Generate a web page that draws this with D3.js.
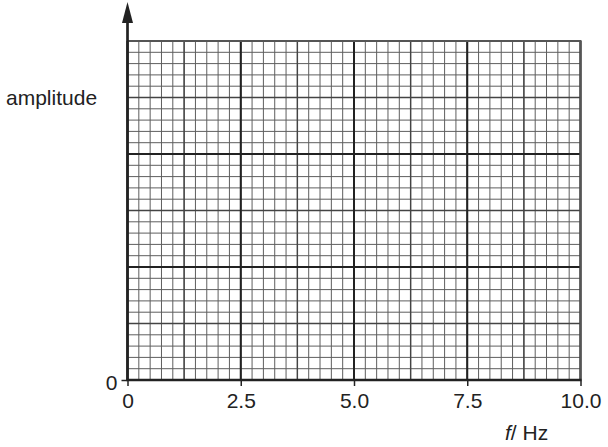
<!DOCTYPE html>
<html>
<head>
<meta charset="utf-8">
<script src="https://cdn.jsdelivr.net/npm/d3@7"></script>
<style>
  body { margin: 0; background: #fff; }
  svg { display: block; }
  text { font-family: "Liberation Sans", Arial, sans-serif; fill: #222; }
</style>
</head>
<body>
<div id="chart"></div>
<script>
// axis values
var xDomain = [0, 10];
var xTickValues = [0, 2.5, 5.0, 7.5, 10.0];
var xTickLabels = ["0", "2.5", "5.0", "7.5", "10.0"];
var yDomain = [0, 30];           // grid is 30 small squares high
var yTickValues = [0];
var yTickLabels = ["0"];
var xLabel = "Hz";
var xLabelSymbol = "f";
var yLabel = "amplitude";

// grid spacing (small / medium / large squares)
var xMinorStep = 0.25, xMidStep = 1.25, xMajorStep = 2.5;
var yMinorStep = 1, yMidStep = 5, yMajorStep = 10;

var W = 608, H = 447;
var plot = { left: 127.5, right: 580.5, top: 41, bottom: 380 };

var svg = d3.select("#chart").append("svg")
  .attr("width", W).attr("height", H);

var x = d3.scaleLinear().domain(xDomain).range([plot.left, plot.right]);
var y = d3.scaleLinear().domain(yDomain).range([plot.bottom, plot.top]);

function steps(domain, step) {
  var n = Math.round((domain[1] - domain[0]) / step);
  return d3.range(n + 1).map(function(i) { return domain[0] + i * step; });
}

function drawGrid(cls, xs, ys, color, width) {
  var g = svg.append("g").attr("class", cls);
  g.selectAll("line.v").data(xs).enter().append("line").attr("class", "v")
    .attr("x1", function(d) { return x(d); }).attr("x2", function(d) { return x(d); })
    .attr("y1", y(yDomain[0])).attr("y2", y(yDomain[1]))
    .attr("stroke", color).attr("stroke-width", width);
  g.selectAll("line.h").data(ys).enter().append("line").attr("class", "h")
    .attr("y1", function(d) { return y(d); }).attr("y2", function(d) { return y(d); })
    .attr("x1", x(xDomain[0])).attr("x2", x(xDomain[1]))
    .attr("stroke", color).attr("stroke-width", width);
}

drawGrid("minor", steps(xDomain, xMinorStep), steps(yDomain, yMinorStep), "#5e5e5e", 1);
drawGrid("mid", steps(xDomain, xMidStep), steps(yDomain, yMidStep), "#444", 1.4);
drawGrid("major", steps(xDomain, xMajorStep), steps(yDomain, yMajorStep), "#222", 2);

// top and right edges of the paper
svg.append("path")
  .attr("d", "M" + x(xDomain[0]) + "," + y(yDomain[1]) + "H" + x(xDomain[1]) + "V" + y(yDomain[0]))
  .attr("fill", "none").attr("stroke", "#555").attr("stroke-width", 2);

// x axis
var xAxis = d3.axisBottom(x).tickValues(xTickValues)
  .tickFormat(function(d, i) { return xTickLabels[i]; })
  .tickSize(6).tickPadding(7);
var gx = svg.append("g").attr("transform", "translate(0," + plot.bottom + ")").call(xAxis);
gx.select(".domain").remove();
gx.selectAll(".tick line").attr("stroke", "#222").attr("stroke-width", 1.5);
gx.selectAll(".tick text").attr("font-size", 21).attr("fill", "#222")
  .attr("font-family", "Liberation Sans, Arial, sans-serif");
svg.append("line")
  .attr("x1", x(xDomain[0]) - 1).attr("x2", x(xDomain[1]) + 1)
  .attr("y1", plot.bottom).attr("y2", plot.bottom)
  .attr("stroke", "#222").attr("stroke-width", 2.5);

// y axis with arrow
var yAxis = d3.axisLeft(y).tickValues(yTickValues)
  .tickFormat(function(d, i) { return yTickLabels[i]; })
  .tickSize(6).tickPadding(4);
var gy = svg.append("g").attr("transform", "translate(" + plot.left + ",0)").call(yAxis);
gy.select(".domain").remove();
gy.selectAll(".tick line").attr("stroke", "#222").attr("stroke-width", 1.5);
gy.selectAll(".tick text").attr("font-size", 21).attr("fill", "#222")
  .attr("font-family", "Liberation Sans, Arial, sans-serif").attr("dy", "0.45em");
svg.append("line")
  .attr("x1", plot.left).attr("x2", plot.left)
  .attr("y1", plot.bottom + 1).attr("y2", 20)
  .attr("stroke", "#222").attr("stroke-width", 2.7);
svg.append("path")
  .attr("d", "M" + plot.left + ",2 L" + (plot.left - 5.5) + ",23 L" + (plot.left + 5.5) + ",23 Z")
  .attr("fill", "#222");

// axis titles
svg.append("text").attr("x", 6).attr("y", 105)
  .attr("font-size", 21).text(yLabel);
var xt = svg.append("text").attr("x", 505).attr("y", 440).attr("font-size", 21);
xt.append("tspan").attr("font-style", "italic").text(xLabelSymbol);
xt.append("tspan").text("/ " + xLabel);
</script>
</body>
</html>
